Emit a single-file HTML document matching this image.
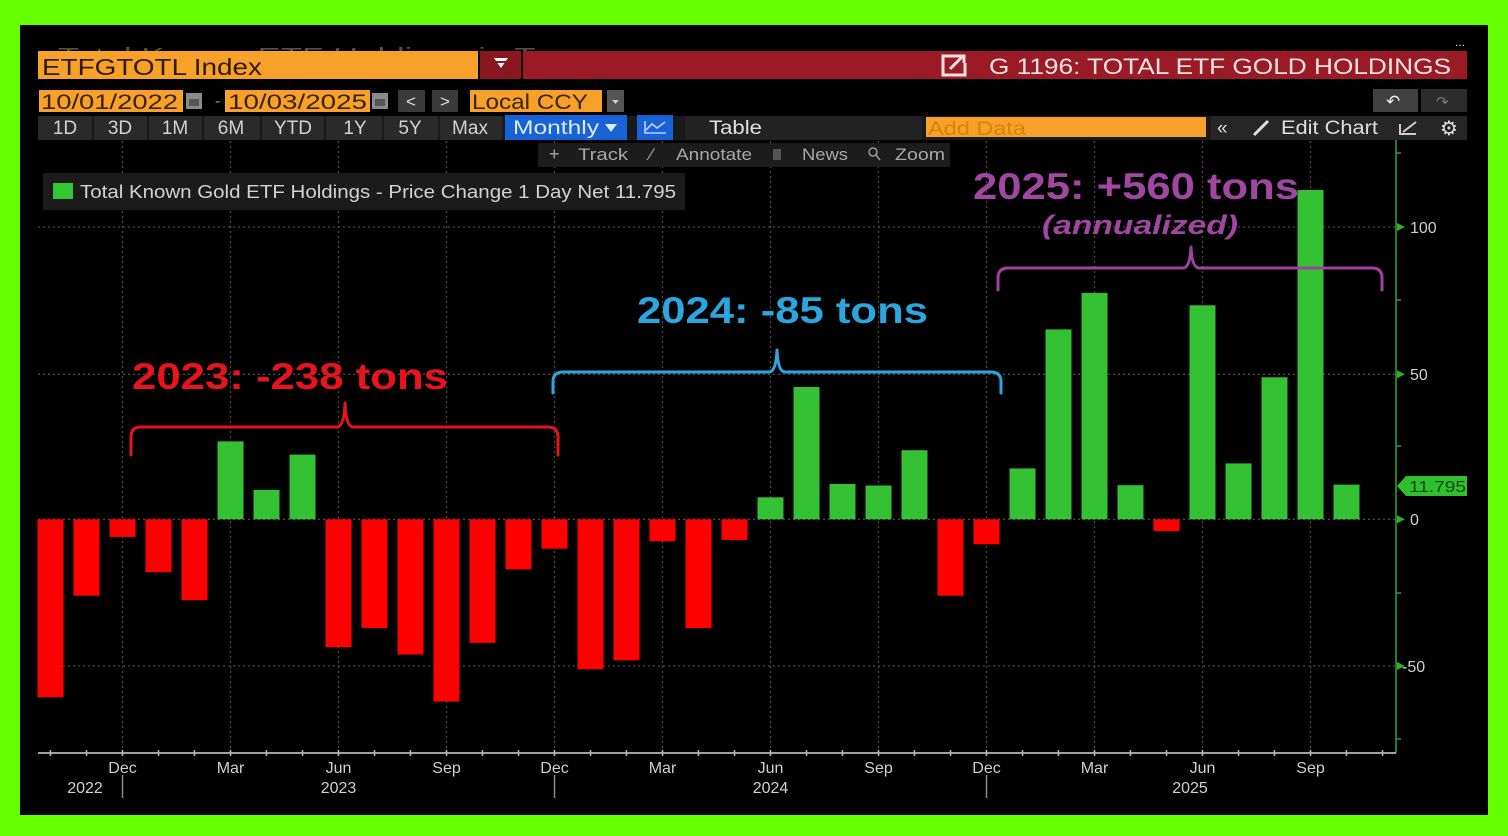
<!DOCTYPE html>
<html><head><meta charset="utf-8"><style>
html,body{margin:0;padding:0;background:#66ff00;}
svg{display:block}
text{font-family:"Liberation Sans",Arial,"DejaVu Sans",sans-serif}
</style></head><body>
<svg width="1508" height="836" viewBox="0 0 1508 836" xmlns="http://www.w3.org/2000/svg">
<rect width="1508" height="836" fill="#66ff00"/>
<rect x="20" y="25" width="1468" height="790" fill="#000"/>

<!-- faint clipped title text -->
<text x="58" y="62" font-size="20" fill="#505050" textLength="530" lengthAdjust="spacingAndGlyphs">Total Known ETF Holdings in Tons</text>
<text x="1455" y="46" font-size="12" fill="#ddd">...</text>

<!-- Row 1 -->
<rect x="38" y="51" width="440" height="28" fill="#f7a02a"/>
<text x="42" y="75" font-size="23" fill="#2e1c00" textLength="220" lengthAdjust="spacingAndGlyphs">ETFGTOTL Index</text>
<rect x="480" y="51" width="41" height="28" fill="#8a1620"/>
<path d="M494,58 L508,58 L501,68 Z" fill="#fff"/>
<rect x="494" y="61" width="14" height="2" fill="#8a1620"/>
<rect x="523" y="51" width="944" height="28" fill="#9a1b25"/>
<rect x="943" y="56" width="22" height="19" fill="none" stroke="#f2e2e2" stroke-width="3"/>
<rect x="957" y="53" width="10" height="10" fill="#9a1b25"/>
<path d="M950,69 L963,56 M956,56 L964,56 L964,63" stroke="#f2e2e2" stroke-width="3" fill="none"/>
<text x="989" y="74" font-size="22" fill="#f5e4e4" textLength="462" lengthAdjust="spacingAndGlyphs">G 1196: TOTAL ETF GOLD HOLDINGS</text>

<!-- Row 2 -->
<rect x="39" y="90" width="144" height="22" fill="#f7a02a"/>
<text x="41" y="109" font-size="21" fill="#3a2400" textLength="137" lengthAdjust="spacingAndGlyphs">10/01/2022</text>
<rect x="186" y="93" width="16" height="16" fill="#8a8a8a"/>
<rect x="189" y="99" width="10" height="7" fill="#555"/>
<text x="215" y="106" font-size="16" fill="#999">-</text>
<rect x="225" y="90" width="145" height="22" fill="#f7a02a"/>
<text x="228" y="109" font-size="21" fill="#3a2400" textLength="139" lengthAdjust="spacingAndGlyphs">10/03/2025</text>
<rect x="372" y="93" width="16" height="16" fill="#8a8a8a"/>
<rect x="375" y="99" width="10" height="7" fill="#555"/>
<rect x="398" y="90" width="27" height="22" fill="#3a3a3a"/>
<text x="406" y="107" font-size="17" fill="#ddd">&lt;</text>
<rect x="432" y="90" width="26" height="22" fill="#3a3a3a"/>
<text x="440" y="107" font-size="17" fill="#ddd">&gt;</text>
<rect x="470" y="90" width="132" height="22" fill="#f7a02a"/>
<text x="472" y="109" font-size="21" fill="#3a2400" textLength="116" lengthAdjust="spacingAndGlyphs">Local CCY</text>
<rect x="607" y="90" width="17" height="22" fill="#555"/>
<path d="M612,100 L619,100 L615.5,104 Z" fill="#ccc"/>
<rect x="1373" y="89" width="45" height="23" fill="#404040"/>
<text x="1386" y="107" font-size="17" fill="#eee" font-family="DejaVu Sans">↶</text>
<rect x="1421" y="89" width="46" height="23" fill="#2c2c2c"/>
<text x="1436" y="107" font-size="15" fill="#777" font-family="DejaVu Sans">↷</text>

<!-- Row 3 -->
<rect x="38" y="116" width="1429" height="24" fill="#1a1a1a"/>
<rect x="38" y="116" width="464" height="24" fill="#2a2a2a"/>
<g fill="#1a1a1a">
<rect x="92" y="116" width="2" height="24"/><rect x="147" y="116" width="2" height="24"/><rect x="202" y="116" width="2" height="24"/><rect x="260" y="116" width="2" height="24"/><rect x="324" y="116" width="2" height="24"/><rect x="382" y="116" width="2" height="24"/><rect x="438" y="116" width="2" height="24"/>
</g>
<g font-size="19" fill="#d2d2d2" text-anchor="middle">
<text x="65" y="134">1D</text><text x="120" y="134">3D</text><text x="175" y="134">1M</text><text x="231" y="134">6M</text><text x="293" y="134">YTD</text><text x="355" y="134">1Y</text><text x="410" y="134">5Y</text><text x="470" y="134">Max</text>
</g>
<rect x="505" y="115" width="122" height="25" fill="#1762d4"/>
<text x="513" y="134" font-size="19" fill="#dfe9ff" textLength="86" lengthAdjust="spacingAndGlyphs">Monthly</text>
<path d="M605,124 L617,124 L611,132 Z" fill="#dfe9ff"/>
<rect x="637" y="115" width="36" height="25" fill="#1762d4"/>
<path d="M645,121 L645,133 L666,133 M646,130 L652,124 L657,128 L665,122" stroke="#bcd2ff" stroke-width="1.6" fill="none"/>
<rect x="685" y="116" width="237" height="24" fill="#222"/>
<text x="709" y="134" font-size="19" fill="#e0e0e0" textLength="53" lengthAdjust="spacingAndGlyphs">Table</text>
<rect x="926" y="117" width="280" height="20" fill="#f7a02a"/>
<text x="928" y="135" font-size="19" fill="#d98608" textLength="98" lengthAdjust="spacingAndGlyphs">Add Data</text>
<rect x="1211" y="116" width="256" height="24" fill="#262626"/>
<text x="1217" y="134" font-size="19" fill="#ddd">«</text>
<path d="M1254,135 L1268,121" stroke="#ddd" stroke-width="3"/>
<text x="1281" y="134" font-size="19" fill="#ddd" textLength="97" lengthAdjust="spacingAndGlyphs">Edit Chart</text>
<path d="M1400,124 L1400,134 L1416,134 M1403,132 L1416,122" stroke="#ccc" stroke-width="2" fill="none"/>
<text x="1440" y="135" font-size="20" fill="#ddd" font-family="DejaVu Sans">⚙</text>

<!-- grid verticals -->
<g stroke="#4a4a4a" stroke-width="1.3" stroke-dasharray="2,3">
<line x1="122.5" y1="141" x2="122.5" y2="752"/><line x1="230.5" y1="141" x2="230.5" y2="752"/><line x1="338.5" y1="141" x2="338.5" y2="752"/><line x1="446.5" y1="141" x2="446.5" y2="752"/><line x1="554.5" y1="141" x2="554.5" y2="752"/><line x1="662.5" y1="141" x2="662.5" y2="752"/><line x1="770.5" y1="141" x2="770.5" y2="752"/><line x1="878.5" y1="141" x2="878.5" y2="752"/><line x1="986.5" y1="141" x2="986.5" y2="752"/><line x1="1094.5" y1="141" x2="1094.5" y2="752"/><line x1="1202.5" y1="141" x2="1202.5" y2="752"/><line x1="1310.5" y1="141" x2="1310.5" y2="752"/>
</g>
<g stroke="#4a4a4a" stroke-width="1.3" stroke-dasharray="2,3">
<line x1="38" y1="227" x2="1396" y2="227"/><line x1="38" y1="374.3" x2="1396" y2="374.3"/><line x1="38" y1="519.3" x2="1396" y2="519.3"/><line x1="38" y1="666" x2="1396" y2="666"/>
</g>

<!-- Row 4 -->
<rect x="538" y="143" width="412" height="24" fill="#1c1c1c"/>
<g font-size="17" fill="#a8a8a8">
<text x="549" y="160" font-size="18">+</text>
<text x="578" y="160" textLength="50" lengthAdjust="spacingAndGlyphs">Track</text>
<text x="650" y="160">∕</text>
<text x="676" y="160" textLength="76" lengthAdjust="spacingAndGlyphs">Annotate</text>
<rect x="773" y="149" width="8" height="11" fill="#555"/>
<text x="802" y="160" textLength="46" lengthAdjust="spacingAndGlyphs">News</text>
<circle cx="873" cy="152" r="4" fill="none" stroke="#999" stroke-width="1.5"/>
<path d="M876,155 L880,160" stroke="#999" stroke-width="1.5"/>
<text x="895" y="160" textLength="50" lengthAdjust="spacingAndGlyphs">Zoom</text>
</g>

<!-- legend -->
<rect x="43" y="173" width="642" height="37" fill="#1b1b1b"/>
<rect x="53" y="183" width="20" height="16" fill="#33c633"/>
<text x="80" y="198" font-size="18" fill="#d2d2d2" textLength="596" lengthAdjust="spacingAndGlyphs">Total Known Gold ETF Holdings - Price Change 1 Day Net 11.795</text>

<!-- bars -->
<g fill="#ff0000">
<rect x="37.5" y="519.3" width="26" height="177.9"/>
<rect x="73.5" y="519.3" width="26" height="76.4"/>
<rect x="109.5" y="519.3" width="26" height="17.6"/>
<rect x="145.5" y="519.3" width="26" height="52.9"/>
<rect x="181.5" y="519.3" width="26" height="80.9"/>
<rect x="325.5" y="519.3" width="26" height="127.9"/>
<rect x="361.5" y="519.3" width="26" height="108.8"/>
<rect x="397.5" y="519.3" width="26" height="135.2"/>
<rect x="433.5" y="519.3" width="26" height="182.3"/>
<rect x="469.5" y="519.3" width="26" height="123.5"/>
<rect x="505.5" y="519.3" width="26" height="50"/>
<rect x="541.5" y="519.3" width="26" height="29.4"/>
<rect x="577.5" y="519.3" width="26" height="149.9"/>
<rect x="613.5" y="519.3" width="26" height="141.1"/>
<rect x="649.5" y="519.3" width="26" height="22"/>
<rect x="685.5" y="519.3" width="26" height="108.8"/>
<rect x="721.5" y="519.3" width="26" height="20.6"/>
<rect x="937.5" y="519.3" width="26" height="76.4"/>
<rect x="973.5" y="519.3" width="26" height="25"/>
<rect x="1153.5" y="519.3" width="26" height="11.8"/>
</g>
<g fill="#34c134">
<rect x="217.5" y="441.4" width="26" height="77.9"/>
<rect x="253.5" y="489.9" width="26" height="29.4"/>
<rect x="289.5" y="454.6" width="26" height="64.7"/>
<rect x="757.5" y="497.3" width="26" height="22"/>
<rect x="793.5" y="387" width="26" height="132.3"/>
<rect x="829.5" y="484" width="26" height="35.3"/>
<rect x="865.5" y="485.5" width="26" height="33.8"/>
<rect x="901.5" y="450.2" width="26" height="69.1"/>
<rect x="1009.5" y="468.4" width="26" height="50.9"/>
<rect x="1045.5" y="329.4" width="26" height="189.9"/>
<rect x="1081.5" y="292.9" width="26" height="226.4"/>
<rect x="1117.5" y="485.2" width="26" height="34.1"/>
<rect x="1189.5" y="305.3" width="26" height="214"/>
<rect x="1225.5" y="463.4" width="26" height="55.9"/>
<rect x="1261.5" y="377.3" width="26" height="142"/>
<rect x="1297.5" y="190" width="26" height="329.3"/>
<rect x="1333.5" y="484.6" width="26" height="34.7"/>
</g>

<!-- right axis -->
<line x1="1396" y1="140" x2="1396" y2="753" stroke="#2f9a2f" stroke-width="1.6"/>
<g fill="#2fae2f">
<path d="M1397,223 L1405,227 L1397,231 Z"/>
<path d="M1397,370.3 L1405,374.3 L1397,378.3 Z"/>
<path d="M1397,515.3 L1405,519.3 L1397,523.3 Z"/>
<path d="M1397,662 L1405,666 L1397,670 Z"/>
</g>
<g stroke="#2f9a2f" stroke-width="1.5">
<line x1="1396" y1="153" x2="1401" y2="153"/><line x1="1396" y1="300" x2="1401" y2="300"/><line x1="1396" y1="446" x2="1401" y2="446"/><line x1="1396" y1="593" x2="1401" y2="593"/><line x1="1396" y1="739" x2="1401" y2="739"/>
</g>
<g font-size="16" fill="#cfcfcf">
<text x="1410" y="233">100</text>
<text x="1410" y="380">50</text>
<text x="1410" y="525">0</text>
<text x="1402" y="672">-50</text>
</g>
<path d="M1397,486 L1406,476 L1467,476 L1467,496 L1406,496 Z" fill="#2fbf2f"/>
<text x="1409" y="492" font-size="15.5" fill="#0c4d0c" textLength="57" lengthAdjust="spacingAndGlyphs">11.795</text>

<!-- x axis -->
<line x1="38" y1="753" x2="1396" y2="753" stroke="#a0a0a0" stroke-width="2"/>
<g stroke="#bbb" stroke-width="1.5">
<line x1="50.5" y1="750" x2="50.5" y2="756"/><line x1="86.5" y1="750" x2="86.5" y2="756"/><line x1="122.5" y1="750" x2="122.5" y2="756"/><line x1="158.5" y1="750" x2="158.5" y2="756"/><line x1="194.5" y1="750" x2="194.5" y2="756"/><line x1="230.5" y1="750" x2="230.5" y2="756"/><line x1="266.5" y1="750" x2="266.5" y2="756"/><line x1="302.5" y1="750" x2="302.5" y2="756"/><line x1="338.5" y1="750" x2="338.5" y2="756"/><line x1="374.5" y1="750" x2="374.5" y2="756"/><line x1="410.5" y1="750" x2="410.5" y2="756"/><line x1="446.5" y1="750" x2="446.5" y2="756"/><line x1="482.5" y1="750" x2="482.5" y2="756"/><line x1="518.5" y1="750" x2="518.5" y2="756"/><line x1="554.5" y1="750" x2="554.5" y2="756"/><line x1="590.5" y1="750" x2="590.5" y2="756"/><line x1="626.5" y1="750" x2="626.5" y2="756"/><line x1="662.5" y1="750" x2="662.5" y2="756"/><line x1="698.5" y1="750" x2="698.5" y2="756"/><line x1="734.5" y1="750" x2="734.5" y2="756"/><line x1="770.5" y1="750" x2="770.5" y2="756"/><line x1="806.5" y1="750" x2="806.5" y2="756"/><line x1="842.5" y1="750" x2="842.5" y2="756"/><line x1="878.5" y1="750" x2="878.5" y2="756"/><line x1="914.5" y1="750" x2="914.5" y2="756"/><line x1="950.5" y1="750" x2="950.5" y2="756"/><line x1="986.5" y1="750" x2="986.5" y2="756"/><line x1="1022.5" y1="750" x2="1022.5" y2="756"/><line x1="1058.5" y1="750" x2="1058.5" y2="756"/><line x1="1094.5" y1="750" x2="1094.5" y2="756"/><line x1="1130.5" y1="750" x2="1130.5" y2="756"/><line x1="1166.5" y1="750" x2="1166.5" y2="756"/><line x1="1202.5" y1="750" x2="1202.5" y2="756"/><line x1="1238.5" y1="750" x2="1238.5" y2="756"/><line x1="1274.5" y1="750" x2="1274.5" y2="756"/><line x1="1310.5" y1="750" x2="1310.5" y2="756"/><line x1="1346.5" y1="750" x2="1346.5" y2="756"/><line x1="1382.5" y1="750" x2="1382.5" y2="756"/>
</g>
<g font-size="16" fill="#d0d0d0" text-anchor="middle">
<text x="122.5" y="773">Dec</text><text x="230.5" y="773">Mar</text><text x="338.5" y="773">Jun</text><text x="446.5" y="773">Sep</text><text x="554.5" y="773">Dec</text><text x="662.5" y="773">Mar</text><text x="770.5" y="773">Jun</text><text x="878.5" y="773">Sep</text><text x="986.5" y="773">Dec</text><text x="1094.5" y="773">Mar</text><text x="1202.5" y="773">Jun</text><text x="1310.5" y="773">Sep</text>
<text x="85" y="793">2022</text><text x="338.5" y="793">2023</text><text x="770.5" y="793">2024</text><text x="1190" y="793">2025</text>
</g>
<g stroke="#8a8a8a" stroke-width="1.5">
<line x1="122.5" y1="775" x2="122.5" y2="798"/><line x1="554.5" y1="775" x2="554.5" y2="798"/><line x1="986.5" y1="775" x2="986.5" y2="798"/>
</g>

<!-- annotations -->
<g fill="none" stroke-width="3" stroke-linecap="round" stroke-linejoin="round">
<path stroke="#e5141b" d="M131,455 L131,437 Q131,427 141,427 L337,427 Q344,427 345,403 Q346,427 353,427 L548,427 Q558,427 558,437 L558,455"/>
<path stroke="#2aa7e0" d="M553,393 L553,382 Q553,372 563,372 L769,372 Q776,372 777,350 Q778,372 785,372 L991,372 Q1001,372 1001,382 L1001,393"/>
<path stroke="#a041a2" d="M998,290 L998,278 Q998,268 1008,268 L1183,268 Q1190,268 1191,247 Q1192,268 1199,268 L1372,268 Q1382,268 1382,278 L1382,290"/>
</g>
<text x="132" y="389" font-size="37" font-weight="bold" fill="#e8141b" textLength="316" lengthAdjust="spacingAndGlyphs">2023: -238 tons</text>
<text x="637" y="323" font-size="37" font-weight="bold" fill="#2ba6df" textLength="291" lengthAdjust="spacingAndGlyphs">2024: -85 tons</text>
<text x="973" y="199" font-size="37" font-weight="bold" fill="#a146a3" textLength="326" lengthAdjust="spacingAndGlyphs">2025: +560 tons</text>
<text x="1042" y="234" font-size="27" font-weight="bold" font-style="italic" fill="#a146a3" textLength="196" lengthAdjust="spacingAndGlyphs">(annualized)</text>
</svg>
</body></html>
